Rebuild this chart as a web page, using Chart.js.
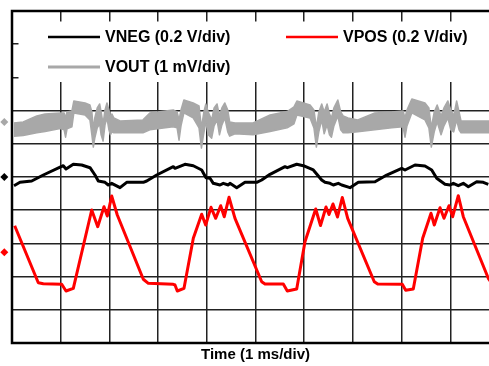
<!DOCTYPE html>
<html><head><meta charset="utf-8">
<script src="https://cdn.jsdelivr.net/npm/chart.js@4"></script>
<style>
html,body{margin:0;padding:0;background:#fff;overflow:hidden;width:489px;height:366px}
#wrap{position:absolute;left:0;top:0;width:510px;height:366px}
</style>
</head><body><div id="wrap"><canvas id="c" width="510" height="366"></canvas></div>
<script>
// ---- data (x in ms, y in screen divisions) ----
const vposTime = [0.055,0.54,0.643,1.021,1.109,1.259,1.637,1.760,1.889,1.957,2.047,2.162,2.696,2.799,3.312,3.347,3.394,3.532,3.723,3.895,3.977,4.086,4.183,4.285,4.359,4.456,4.579,5.127,5.195,5.571,5.653,5.846,6.016,6.236,6.335,6.448,6.509,6.591,6.684,6.782,6.893,7.439,7.509,8.014,8.084,8.240,8.433,8.604,8.671,8.789,8.871,8.973,9.049,9.164,9.267,9.780,9.86];
const vposDiv = [-1.467,-3.184,-3.214,-3.232,-3.434,-3.352,-0.994,-1.497,-0.895,-1.175,-0.572,-1.145,-3.081,-3.202,-3.232,-3.253,-3.434,-3.352,-1.846,-1.123,-1.446,-0.913,-1.244,-0.864,-1.196,-0.611,-1.244,-3.154,-3.223,-3.223,-3.434,-3.373,-1.949,-0.964,-1.461,-0.904,-1.130,-0.813,-1.205,-0.617,-1.244,-3.154,-3.223,-3.232,-3.413,-3.373,-1.846,-1.093,-1.446,-0.925,-1.244,-0.864,-1.196,-0.563,-1.196,-3.051,-3.22];

const vnegTime = [0.041,0.164,0.405,0.643,1.053,1.109,1.259,1.431,1.602,1.704,1.772,1.910,1.977,2.047,2.218,2.355,2.696,2.766,2.971,3.312,3.347,3.552,3.723,3.895,3.984,4.066,4.133,4.271,4.339,4.441,4.476,4.614,4.784,5.025,5.127,5.298,5.606,5.653,5.846,5.982,6.187,6.359,6.427,6.530,6.598,6.700,6.770,6.940,7.111,7.454,7.694,8.002,8.070,8.275,8.480,8.618,8.721,8.891,8.994,9.062,9.164,9.267,9.370,9.542,9.678,9.780];
const vnegDiv = [-0.262,-0.160,-0.120,0.060,0.340,0.241,0.383,0.361,0.280,0.060,-0.120,-0.160,-0.241,-0.190,-0.322,-0.160,-0.160,-0.120,0.060,0.310,0.262,0.383,0.340,0.211,-0.021,-0.039,-0.190,-0.241,-0.190,-0.241,-0.190,-0.322,-0.160,-0.160,-0.090,0.081,0.310,0.280,0.383,0.340,0.211,-0.090,-0.160,-0.190,-0.241,-0.190,-0.241,-0.322,-0.160,-0.142,0.060,0.262,0.211,0.361,0.331,0.211,-0.039,-0.220,-0.241,-0.190,-0.262,-0.190,-0.292,-0.142,-0.160,-0.220];

const voutTime = [0.04,0.23,0.51,0.68,0.99,1.07,1.10,1.13,1.23,1.27,1.50,1.60,1.64,1.67,1.70,1.75,1.80,1.83,1.87,1.91,1.95,1.99,2.02,2.05,2.09,2.22,2.69,2.83,3.31,3.39,3.43,3.47,3.53,3.72,3.84,3.89,3.94,3.98,4.03,4.10,4.15,4.21,4.26,4.31,4.37,4.43,4.47,4.58,4.95,5.30,5.65,5.79,5.85,6.12,6.20,6.25,6.30,6.36,6.41,6.47,6.52,6.56,6.61,6.69,6.75,6.80,6.90,7.10,7.45,7.80,8.03,8.07,8.11,8.21,8.48,8.56,8.61,8.67,8.73,8.81,8.87,8.95,9.01,9.07,9.13,9.18,9.22,9.78,9.86];
const voutTopDiv = [1.63,1.66,1.84,1.90,1.93,1.93,1.78,1.96,1.99,2.29,2.23,2.17,1.96,1.42,1.78,2.08,2.20,1.96,1.60,2.02,2.23,2.02,1.78,1.90,1.78,1.69,1.72,1.93,2.02,1.96,1.72,2.02,2.32,2.23,2.14,1.48,1.96,2.20,1.96,1.72,2.08,2.20,1.84,2.08,2.23,2.02,1.66,1.63,1.63,1.87,1.97,2.11,2.29,2.17,2.02,1.48,1.96,2.20,1.96,2.20,1.90,1.78,2.08,2.32,1.96,1.84,1.78,1.72,1.93,1.96,1.99,1.78,2.02,2.35,2.23,2.08,1.48,1.96,2.17,1.84,2.08,2.29,2.02,1.84,2.29,1.96,1.69,1.69,1.69];
const voutBottomDiv = [1.23,1.25,1.33,1.37,1.46,1.42,1.20,1.45,1.51,1.93,1.87,1.72,1.27,0.90,1.17,1.48,1.60,1.27,1.08,1.57,1.78,1.42,1.27,1.36,1.33,1.33,1.33,1.42,1.51,1.48,1.11,1.54,1.93,1.78,1.48,0.87,1.33,1.66,1.27,1.17,1.54,1.72,1.27,1.57,1.78,1.36,1.23,1.30,1.27,1.37,1.48,1.60,1.87,1.78,1.48,0.90,1.36,1.72,1.30,1.57,1.27,1.20,1.54,1.84,1.42,1.33,1.33,1.36,1.42,1.48,1.51,1.20,1.54,1.93,1.72,1.48,0.90,1.36,1.66,1.27,1.54,1.78,1.42,1.36,1.72,1.42,1.33,1.33,1.33];

const channelMarkers = [1.66, 0, -2.27];   // VOUT, VNEG, VPOS ground markers (div)
const legendLabels = ['VNEG (0.2 V/div)', 'VPOS (0.2 V/div)', 'VOUT (1 mV/div)'];
const xTitle = 'Time (1 ms/div)';

const RED = '#ff0000', BLACK = '#000000', GRAY = '#a8a8a8';
const markerColors = [GRAY, BLACK, RED];
const pts = (xs, ys) => xs.map((x, i) => ({x, y: ys[i]}));

const framePlugin = {
  id: 'frame',
  beforeDatasetsDraw(chart) {
    const {ctx, chartArea: a} = chart;
    ctx.save();
    // legend box
    ctx.fillStyle = '#fff';
    ctx.fillRect(18.5, 21.5, 500, 60.5);
    ctx.lineCap = 'butt';
    const items = [
      {x1: 48, x2: 100, y: 37, tx: 105, c: BLACK, w: 2.5, t: legendLabels[0]},
      {x1: 286, x2: 338, y: 37, tx: 343, c: RED, w: 2.5, t: legendLabels[1]},
      {x1: 48, x2: 100, y: 67, tx: 105, c: GRAY, w: 3, t: legendLabels[2]}
    ];
    ctx.font = 'bold 16px "Liberation Sans", Arial, sans-serif';
    ctx.textBaseline = 'middle';
    ctx.textAlign = 'left';
    items.forEach(it => {
      ctx.strokeStyle = it.c; ctx.lineWidth = it.w;
      ctx.beginPath(); ctx.moveTo(it.x1, it.y); ctx.lineTo(it.x2, it.y); ctx.stroke();
      ctx.fillStyle = '#000';
      ctx.fillText(it.t, it.tx, it.y + 0.5);
    });
    // frame
    ctx.strokeStyle = '#000'; ctx.lineWidth = 2.5;
    ctx.strokeRect(a.left, a.top, a.right - a.left, a.bottom - a.top);
    ctx.restore();
  },
  afterDatasetsDraw(chart) {
    const {ctx} = chart;
    const xs = chart.scales.x, ys = chart.scales.y;
    const cx = xs.getPixelForValue(-0.158);
    ctx.save();
    channelMarkers.forEach((v, i) => {
      const cy = ys.getPixelForValue(v);
      const r = 4;
      ctx.fillStyle = markerColors[i];
      ctx.beginPath();
      ctx.moveTo(cx, cy - r); ctx.lineTo(cx + r, cy); ctx.lineTo(cx, cy + r); ctx.lineTo(cx - r, cy);
      ctx.closePath(); ctx.fill();
    });
    ctx.restore();
  }
};

new Chart(document.getElementById('c'), {
  type: 'line',
  data: {
    datasets: [
      {label: 'VOUT', data: pts(voutTime, voutTopDiv), borderColor: GRAY, borderWidth: 1.5, pointRadius: 0, fill: false},
      {label: 'VOUT_low', data: pts(voutTime, voutBottomDiv), borderColor: GRAY, borderWidth: 1.5, pointRadius: 0, fill: '-1', backgroundColor: GRAY},
      {label: 'VNEG', data: pts(vnegTime, vnegDiv), borderColor: BLACK, borderWidth: 3, pointRadius: 0, fill: false},
      {label: 'VPOS', data: pts(vposTime, vposDiv), borderColor: RED, borderWidth: 3, pointRadius: 0, fill: false}
    ]
  },
  options: {
    responsive: false, animation: false, devicePixelRatio: 1,
    layout: {padding: {left: 12, top: 11, right: 11, bottom: 0}},
    elements: {line: {tension: 0, borderJoinStyle: 'round'}},
    plugins: {legend: {display: false}, tooltip: {enabled: false}},
    scales: {
      x: {type: 'linear', min: 0, max: 10,
          ticks: {display: false, stepSize: 1},
          grid: {color: '#222', lineWidth: 1.5, drawTicks: false},
          border: {display: false},
          title: {display: true, text: xTitle, color: '#000',
                  font: {family: '"Liberation Sans", Arial, sans-serif', size: 15, weight: 'bold'},
                  padding: {top: 3, bottom: 2}}},
      y: {type: 'linear', min: -5, max: 5,
          ticks: {display: false, stepSize: 1},
          grid: {color: '#222', lineWidth: 1.5, drawTicks: false},
          border: {display: false}}
    }
  },
  plugins: [framePlugin]
});
</script>
</body></html>
